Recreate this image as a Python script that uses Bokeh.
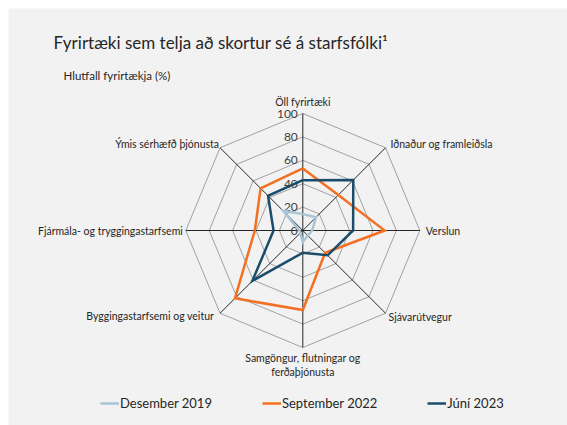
import numpy as np
from bokeh.plotting import figure
from bokeh.models import Label, Legend, LegendItem, Range1d
from bokeh.core.properties import value
from bokeh.embed import file_html
from bokeh.resources import INLINE

# ---- data ----
categories = ["Öll fyrirtæki", "Iðnaður og framleiðsla", "Verslun", "Sjávarútvegur",
              "Samgöngur, flutningar og\nferðaþjónusta", "Byggingastarfsemi og veitur",
              "Fjármála- og tryggingastarfsemi", "Ýmis sérhæfð þjónusta"]
des2019 = [14, 16, 8, 6, 10, 3, 3, 24]
sep2022 = [53, 43, 70, 27, 68, 82, 41, 51]
jun2023 = [43, 61, 43, 30, 19, 61, 25, 42]
series_names = ["Desember 2019", "September 2022", "Júní 2023"]
series_colors = ["#a9c4d6", "#f36f21", "#1b4d6b"]
ring_levels = [20, 40, 60, 80, 100]
tick_labels = ["0", "20", "40", "60", "80", "100"]

FONT = "Lato"
BG = "#f2f2f2"
W, H = 567, 425
MB = 8
FW, FH = W - MB, H - MB  # frame size
scale = 1.17  # px per unit
cx, cy = 294.3, 222.0  # center in frame px from top-left

p = figure(width=W, height=H, output_backend="svg", toolbar_location=None,
           x_axis_type=None, y_axis_type=None,
           min_border_left=MB, min_border_top=MB, min_border_right=0, min_border_bottom=0,
           x_range=Range1d(-cx / scale, (FW - cx) / scale),
           y_range=Range1d(-(FH - cy) / scale, cy / scale))
p.grid.visible = False
p.outline_line_color = None
p.background_fill_color = BG
p.border_fill_color = "white"

n = len(categories)
angles = np.pi / 2 - np.arange(n) * 2 * np.pi / n
ca, sa = np.cos(angles), np.sin(angles)

# rings
for lv in ring_levels:
    xs = list(lv * ca) + [lv * ca[0]]
    ys = list(lv * sa) + [lv * sa[0]]
    p.line(xs, ys, line_color="#8c8c8c", line_width=0.8)

# spokes
mx = ring_levels[-1]
p.segment(x0=[0] * n, y0=[0] * n, x1=list(mx * ca), y1=list(mx * sa),
          line_color="#262626", line_width=1)

# tick labels along top spoke
tick_vals = [0] + ring_levels
p.text(x=[0] * len(tick_vals), y=tick_vals, text=tick_labels, x_offset=-5,
       text_align="right", text_baseline="middle", text_font=value(FONT),
       text_font_size="12px", text_color="#404040")

# series
renderers = []
for vals, col in zip([des2019, sep2022, jun2023], series_colors):
    v = np.array(vals, dtype=float)
    xs = list(v * ca) + [v[0] * ca[0]]
    ys = list(v * sa) + [v[0] * sa[0]]
    r = p.line(xs, ys, line_color=col, line_width=2.5, line_join="miter")
    renderers.append(r)

# category labels
aligns = ["center", "left", "left", "left", "center", "right", "right", "right"]
bases = ["bottom", "middle", "middle", "middle", "top", "middle", "middle", "middle"]
xoff = [0, 5, 6, 3, 0, -6, -3, -1]
yoff = [-6, -4, 0, 4, 4, 3, 0, -4]
for i in range(n):
    p.text(x=[mx * ca[i]], y=[mx * sa[i]], text=[categories[i]],
           x_offset=xoff[i], y_offset=yoff[i], text_align=aligns[i],
           text_baseline=bases[i], text_font=value(FONT), text_font_size="10.5px",
           text_color="#262626", text_line_height=1.2)

# title & subtitle
p.add_layout(Label(x=45, y=FH - 34, x_units="screen", y_units="screen",
                   text="Fyrirtæki sem telja að skortur sé á starfsfólki¹",
                   text_font=FONT, text_font_size="17px", text_color="#262626",
                   text_baseline="middle"))
p.add_layout(Label(x=55, y=FH - 67, x_units="screen", y_units="screen",
                   text="Hlutfall fyrirtækja (%)", text_font=FONT,
                   text_font_size="11.5px", text_color="#262626", text_baseline="middle"))

legend = Legend(items=[LegendItem(label=nm, renderers=[r]) for nm, r in zip(series_names, renderers)],
                orientation="horizontal", location=(92, 12), spacing=50,
                glyph_width=19, glyph_height=20, label_standoff=1, padding=0, margin=0,
                border_line_color=None, background_fill_alpha=0,
                label_text_font=FONT, label_text_font_size="13px", label_text_color="#262626")
p.add_layout(legend)

open("out.html", "w").write(file_html(p, INLINE))
